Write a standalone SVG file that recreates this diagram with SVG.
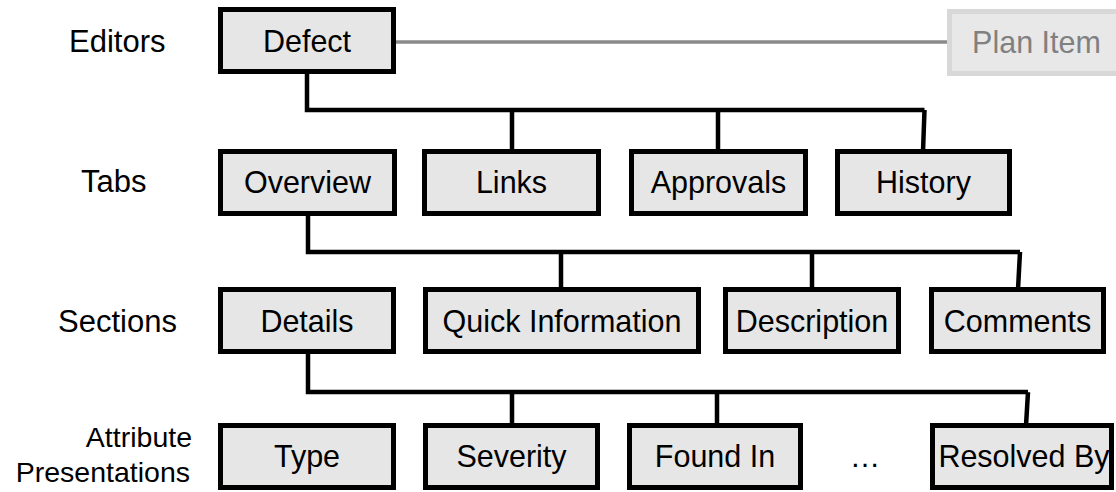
<svg xmlns="http://www.w3.org/2000/svg" width="1116" height="492" viewBox="0 0 1116 492">
<style>
.box{fill:#e6e6e6;stroke:#000;stroke-width:5}
.plan{fill:#e8e8e8;stroke:#d8d8d8;stroke-width:5}
.t{font-family:"Liberation Sans",Arial,sans-serif;font-size:30.5px;fill:#000;text-anchor:middle}
.pt{font-family:"Liberation Sans",Arial,sans-serif;font-size:30.5px;fill:#808080;text-anchor:middle}
.lbl{font-family:"Liberation Sans",Arial,sans-serif;font-size:31px;fill:#000}
.lbl2{font-family:"Liberation Sans",Arial,sans-serif;font-size:28.5px;fill:#000;text-anchor:end}
.c{fill:none;stroke:#000;stroke-width:4.5;stroke-linejoin:miter}
.g{fill:none;stroke:#8a8a8a;stroke-width:3.5}
</style>
<rect width="1116" height="492" fill="#fff"/>
<g id="labels">
<text class="lbl" x="69" y="52">Editors</text>
<text class="lbl" x="81" y="192">Tabs</text>
<text class="lbl" x="58" y="332">Sections</text>
<text class="lbl2" x="192" y="447">Attribute</text>
<text class="lbl2" x="190" y="482">Presentations</text>
</g>
<g id="connectors">
<line class="g" x1="396" y1="42" x2="948" y2="42"/>
<path class="c" d="M307,71.5 V110 H924.5 M512,110 V151.5 M718,110 V151.5 M924.5,110 L923,151.5"/>
<path class="c" d="M308,213.5 V252 H1020 M561,252 V289.5 M812,252 V289.5 M1020,252 L1018,289.5"/>
<path class="c" d="M308,351.5 V392 H1028 M512,392 V425.5 M717,392 V425.5 M1028,392 L1026,425.5"/>
</g>
<g id="defect"><rect class="box" x="220.5" y="9.5" width="173" height="62"/><text class="t" x="307" y="52">Defect</text></g>
<g id="plan-item"><rect class="plan" x="949.5" y="11.5" width="176" height="62"/><text class="pt" x="1036.5" y="53">Plan Item</text></g>
<g id="overview"><rect class="box" x="220.5" y="151.5" width="174" height="62"/><text class="t" x="307.5" y="193">Overview</text></g>
<g id="links"><rect class="box" x="424.5" y="151.5" width="174" height="62"/><text class="t" x="511.5" y="193">Links</text></g>
<g id="approvals"><rect class="box" x="631.5" y="151.5" width="174" height="62"/><text class="t" x="718.5" y="193">Approvals</text></g>
<g id="history"><rect class="box" x="837.5" y="151.5" width="172" height="62"/><text class="t" x="923.5" y="193">History</text></g>
<g id="details"><rect class="box" x="220.5" y="289.5" width="173" height="62"/><text class="t" x="307" y="332">Details</text></g>
<g id="quick-information"><rect class="box" x="425.5" y="289.5" width="273" height="62"/><text class="t" x="562" y="332">Quick Information</text></g>
<g id="description"><rect class="box" x="725.5" y="289.5" width="173" height="62"/><text class="t" x="812" y="332">Description</text></g>
<g id="comments"><rect class="box" x="931.5" y="289.5" width="172" height="62"/><text class="t" x="1017.5" y="332">Comments</text></g>
<g id="type"><rect class="box" x="220.5" y="425.5" width="173" height="62"/><text class="t" x="307" y="467">Type</text></g>
<g id="severity"><rect class="box" x="425.5" y="425.5" width="172" height="62"/><text class="t" x="511.5" y="467">Severity</text></g>
<g id="found-in"><rect class="box" x="629.5" y="425.5" width="171" height="62"/><text class="t" x="715" y="467">Found In</text></g>
<g id="ellipsis"><text class="t" x="865" y="467">…</text></g>
<g id="resolved-by"><rect class="box" x="932.5" y="425.5" width="179" height="62"/><text class="t" x="1024" y="467">Resolved By</text></g>
</svg>
